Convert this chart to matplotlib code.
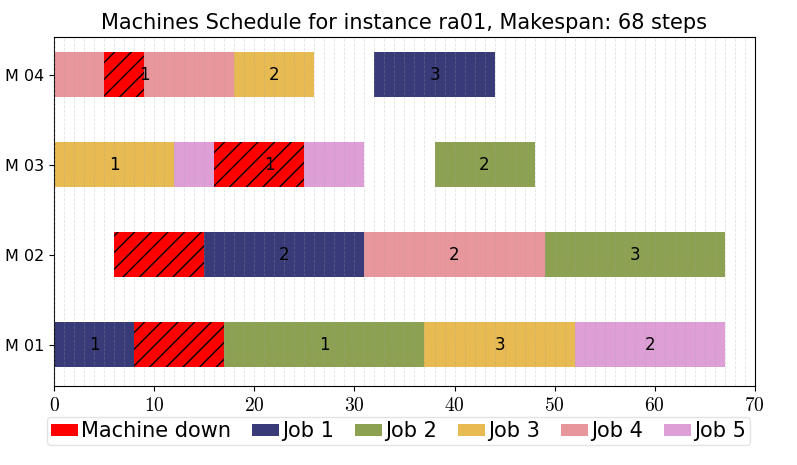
import matplotlib
matplotlib.use('Agg')
import matplotlib.pyplot as plt
from matplotlib.patches import Patch
from matplotlib.ticker import FuncFormatter, MultipleLocator

# machines, bottom to top
machines = ['M 01', 'M 02', 'M 03', 'M 04']
jobs = ['Job 1', 'Job 2', 'Job 3', 'Job 4', 'Job 5']
job_colours = ['#393b79', '#8ca252', '#e7ba52', '#e7969c', '#de9ed6']

# operations: machine index, job index, start, end, operation label
op_machine = [0, 0, 0, 0, 1, 1, 1, 2, 2, 2, 3, 3, 3]
op_job = [0, 1, 2, 4, 0, 3, 1, 2, 4, 1, 3, 2, 0]
op_start = [0, 17, 37, 52, 15, 31, 49, 0, 12, 38, 0, 18, 32]
op_end = [8, 37, 52, 67, 31, 49, 67, 12, 31, 48, 18, 26, 44]
op_label = ['1', '1', '3', '2', '2', '2', '3', '1', '1', '2', '1', '2', '3']

# machine breakdowns: machine index, start, end
down_machine = [0, 1, 2, 3]
down_start = [8, 6, 16, 5]
down_end = [17, 15, 25, 9]

makespan = 68
instance = 'ra01'

plt.rcParams['mathtext.fontset'] = 'cm'
plt.rcParams['hatch.linewidth'] = 1.0

fig = plt.figure(figsize=(7.97, 4.65), dpi=100)
ax = fig.add_axes([0.068, 0.170, 0.879, 0.750])

bar_h = 0.5
for m, j, s, e, lab in zip(op_machine, op_job, op_start, op_end, op_label):
    ax.barh(m, e - s, left=s, height=bar_h, color=job_colours[j],
            edgecolor='none', zorder=2)
    ax.text((s + e) / 2., m, lab, ha='center', va='center', fontsize=12,
            color='black', zorder=5)

for m, s, e in zip(down_machine, down_start, down_end):
    ax.barh(m, e - s, left=s, height=bar_h, color='red', hatch='//',
            edgecolor='black', linewidth=0, zorder=3)

ax.set_xlim(0, 70)
ax.set_ylim(-0.46, 3.42)
ax.set_yticks(range(len(machines)))
ax.set_yticklabels(machines, fontsize=11.5)
ax.xaxis.set_major_locator(MultipleLocator(10))
ax.xaxis.set_minor_locator(MultipleLocator(1))
ax.xaxis.set_major_formatter(FuncFormatter(lambda v, p: '$%d$' % v))
ax.tick_params(axis='x', labelsize=14, which='major')
ax.tick_params(axis='x', which='minor', length=0)
ax.set_axisbelow(False)
ax.grid(axis='x', which='both', color='#a0a0a0', alpha=0.3, linestyle='--',
        linewidth=0.6, zorder=4)

ax.set_title('Machines Schedule for instance %s, Makespan: %d steps'
             % (instance, makespan), fontsize=15)

handles = [Patch(facecolor='red', label='Machine down')]
for name, c in zip(jobs, job_colours):
    handles.append(Patch(facecolor=c, label=name))
fig.legend(handles=handles, loc='lower center', ncol=6, fontsize=15,
           bbox_to_anchor=(0.5, 0.02), handlelength=1.3, handleheight=0.5,
           handletextpad=0.15, columnspacing=1.0, borderpad=0.2,
           fancybox=True, edgecolor='#dddddd')

plt.savefig('out.png', dpi=100)
